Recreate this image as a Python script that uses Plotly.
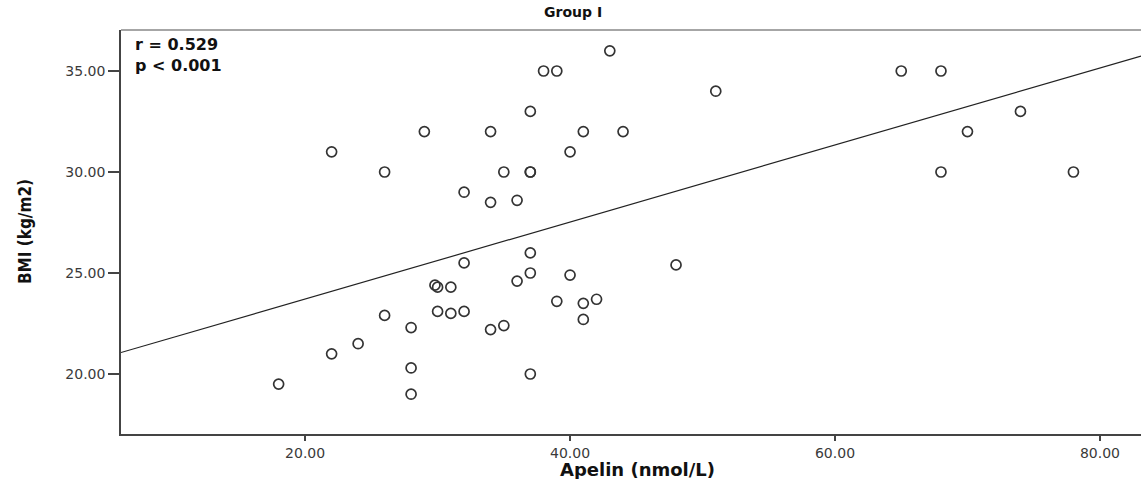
import plotly.graph_objects as go

# Data
apelin = [18, 22, 22, 24, 26, 26, 28, 28, 28, 29,
          29.8, 30, 30, 31, 31, 32, 32, 32, 34, 34,
          34, 35, 35, 36, 36, 37, 37, 37, 37, 37,
          37, 38, 39, 39, 40, 40, 41, 41, 41, 42,
          43, 44, 48, 51, 65, 68, 68, 70, 74, 78]
bmi = [19.5, 31.0, 21.0, 21.5, 30.0, 22.9, 22.3, 20.3, 19.0, 32.0,
       24.4, 24.3, 23.1, 24.3, 23.0, 29.0, 25.5, 23.1, 32.0, 28.5,
       22.2, 30.0, 22.4, 28.6, 24.6, 33.0, 30.0, 30.0, 26.0, 25.0,
       20.0, 35.0, 35.0, 23.6, 31.0, 24.9, 32.0, 23.5, 22.7, 23.7,
       36.0, 32.0, 25.4, 34.0, 35.0, 35.0, 30.0, 32.0, 33.0, 30.0]

fit_intercept = 19.90
fit_slope = 0.1906
x_range = [6.1, 83.1]
y_range = [17.03, 37.03]
x_ticks = [20, 40, 60, 80]
y_ticks = [20, 25, 30, 35]

fit_x = list(x_range)
fit_y = [fit_intercept + fit_slope * v for v in fit_x]

fig = go.Figure()
fig.add_trace(go.Scatter(
    x=fit_x, y=fit_y, mode="lines",
    line=dict(color="#222222", width=1.2),
    showlegend=False, hoverinfo="skip",
))
fig.add_trace(go.Scatter(
    x=apelin, y=bmi, mode="markers",
    marker=dict(symbol="circle-open", size=10,
                line=dict(color="#333333", width=1.7), color="#333333"),
    showlegend=False,
))

tick_font = dict(family="DejaVu Sans", size=14, color="#3a3a3a")

fig.update_xaxes(
    range=x_range, tickvals=x_ticks, ticktext=[f"{v:.2f}" for v in x_ticks],
    showgrid=False, zeroline=False, showline=True, linecolor="#444444", linewidth=1.5,
    ticks="outside", ticklen=5, tickwidth=1.5, tickcolor="#444444", tickfont=tick_font,
    automargin=False,
)
fig.update_yaxes(
    range=y_range, tickvals=y_ticks, ticktext=[f"{v:.2f}" for v in y_ticks],
    showgrid=False, zeroline=False, showline=True, linecolor="#444444", linewidth=1.5,
    ticks="outside", ticklen=11, tickwidth=1.5, tickcolor="#444444", tickfont=tick_font,
    automargin=False,
)

fig.add_shape(type="line", xref="paper", yref="paper", x0=0, x1=1, y0=1, y1=1,
              line=dict(color="#888888", width=1.5))

annotations = [
    dict(text="<b>Group I</b>", x=0.443, y=1.0446, xref="paper", yref="paper",
         xanchor="center", yanchor="middle", showarrow=False,
         font=dict(family="DejaVu Sans", size=14, color="#111111")),
    dict(text="<b>r = 0.529</b><br><b>p &lt; 0.001</b>", x=0.012, y=0.9375,
         xref="paper", yref="paper", align="left",
         xanchor="left", yanchor="middle", showarrow=False,
         font=dict(family="DejaVu Sans", size=16, color="#111111")),
    dict(text="<b>Apelin (nmol/L)</b>", x=0.506, y=-0.089, xref="paper", yref="paper",
         xanchor="center", yanchor="middle", showarrow=False,
         font=dict(family="DejaVu Sans", size=18, color="#111111")),
    dict(text="<b>BMI (kg/m2)</b>", x=-0.094, y=0.50, xref="paper", yref="paper",
         xanchor="center", yanchor="middle", showarrow=False, textangle=-90,
         font=dict(family="DejaVu Sans Condensed, Liberation Sans", size=17,
                   color="#111111")),
]

fig.update_layout(
    width=1141, height=479,
    margin=dict(l=121, r=0, t=30, b=45),
    paper_bgcolor="white", plot_bgcolor="white",
    annotations=annotations,
)

fig.write_html(
    "out.html",
    config={"displayModeBar": False},
    post_script="document.body.style.margin='0';document.body.style.padding='0';",
)
